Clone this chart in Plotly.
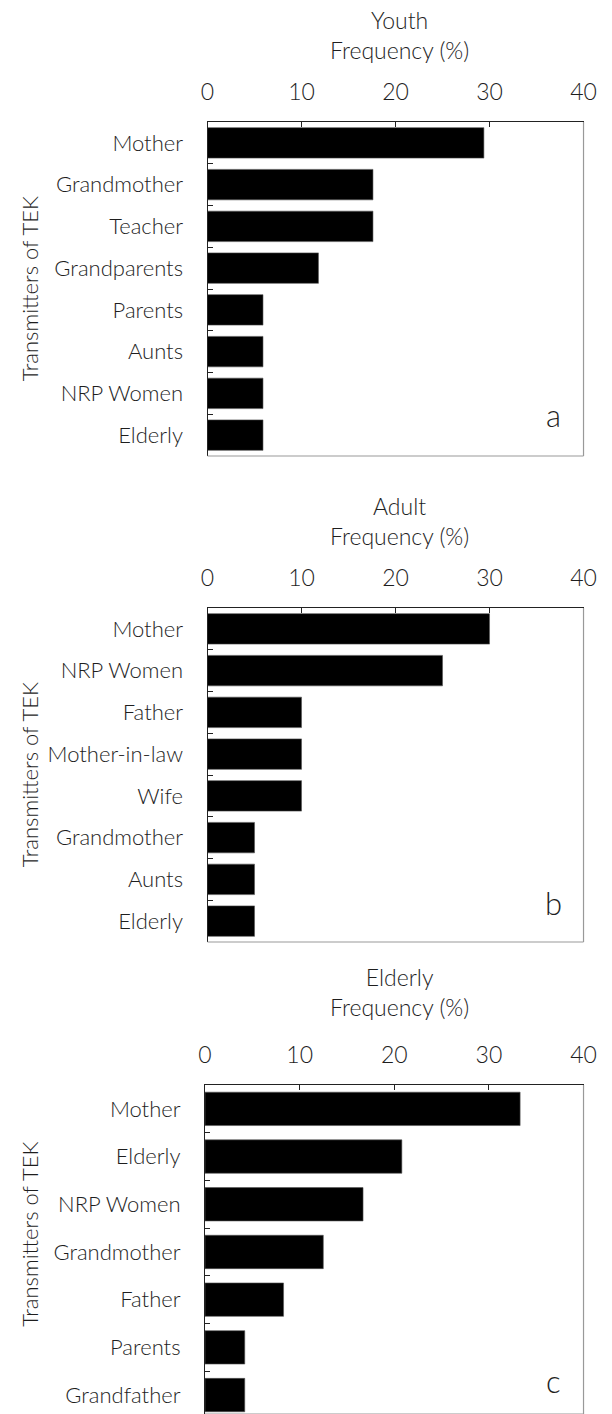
import plotly.graph_objects as go

# Transmitters of traditional ecological knowledge (TEK) by age group
youth_cats = ["Mother", "Grandmother", "Teacher", "Grandparents", "Parents", "Aunts", "NRP Women", "Elderly"]
youth_vals = [29.4, 17.6, 17.6, 11.8, 5.9, 5.9, 5.9, 5.9]

adult_cats = ["Mother", "NRP Women", "Father", "Mother-in-law", "Wife", "Grandmother", "Aunts", "Elderly"]
adult_vals = [30.0, 25.0, 10.0, 10.0, 10.0, 5.0, 5.0, 5.0]

elderly_cats = ["Mother", "Elderly", "NRP Women", "Grandmother", "Father", "Parents", "Grandfather"]
elderly_vals = [33.3, 20.8, 16.7, 12.5, 8.3, 4.2, 4.2]

x_ticks = [0, 10, 20, 30, 40]
group_titles = ["Youth", "Adult", "Elderly"]
panel_letters = ["a", "b", "c"]

W, H = 612, 1414
FONT = "Lato"
WT = 300
TXT = "#1e1e1e"

# pixel geometry of each panel: (left, right, top, bottom, y-range, bargap, title offset)
panels = [
    (207.3, 596.0, 122.0, 456.0, [7.5, -0.5], 0.27, 56),
    (207.3, 596.0, 608.0, 942.0, [7.5, -0.5], 0.27, 56),
    (204.7, 596.0, 1085.0, 1414.0, [6.397, -0.5], 0.30, 62),
]
datasets = [(youth_cats, youth_vals), (adult_cats, adult_vals), (elderly_cats, elderly_vals)]

fig = go.Figure()
layout = dict(
    width=W, height=H,
    margin=dict(l=0, r=0, t=0, b=0),
    paper_bgcolor="white", plot_bgcolor="white",
    showlegend=False,
    font=dict(family=FONT, color=TXT, size=22, weight=WT),
)
annotations = []
shapes = []

for i, ((cats, vals), (l, r, t, b, yr, gap, toff)) in enumerate(zip(datasets, panels)):
    n = "" if i == 0 else str(i + 1)
    xa, ya = "x" + n, "y" + n
    fig.add_trace(go.Bar(
        x=vals, y=cats, orientation="h",
        marker=dict(color="black", line=dict(color="#555", width=0.6)),
        width=1 - gap,
        xaxis=xa, yaxis=ya,
    ))
    layout["xaxis" + n] = dict(
        domain=[l / W, r / W], anchor=ya, side="top",
        range=[0, 40], tickvals=x_ticks, ticktext=[str(v) for v in x_ticks],
        ticks="inside", ticklen=5, tickcolor="#222", tickwidth=1,
        showline=True, linecolor="#222", linewidth=1.2,
        showgrid=False, zeroline=False,
        tickfont=dict(family=FONT, size=23, color=TXT, weight=WT),
        ticklabelstandoff=12,
        fixedrange=True,
    )
    layout["yaxis" + n] = dict(
        domain=[1 - b / H, 1 - t / H], anchor=xa,
        type="category", categoryorder="array", categoryarray=cats,
        range=yr,
        ticks="inside", tickson="boundaries", ticklen=5, tickcolor="#222", tickwidth=1,
        showline=True, linecolor="#222", linewidth=1.2,
        showgrid=False, zeroline=False,
        tickfont=dict(family=FONT, size=22, color=TXT, weight=WT),
        ticklabelstandoff=19,
        fixedrange=True,
    )
    # right and bottom frame edges
    shapes.append(dict(type="line", xref=xa + " domain", yref=ya + " domain",
                       x0=1, x1=1, y0=0, y1=1, line=dict(color="#999", width=1.2)))
    shapes.append(dict(type="line", xref=xa + " domain", yref=ya + " domain",
                       x0=0, x1=1, y0=0, y1=0, line=dict(color="#999", width=1.2)))

    # two-line axis title above the tick labels
    cx = 406.0 / W
    annotations.append(dict(
        text=group_titles[i] + "<br>Frequency (%)", xref="paper", yref="paper",
        x=cx, y=1 - (t - toff) / H, xanchor="center", yanchor="bottom",
        showarrow=False, align="center",
        font=dict(family=FONT, size=23, color=TXT, weight=WT),
    ))
    # rotated category-axis title
    ycen = (t + min(b, t + 334)) / 2 - (15 if i == 2 else 0)
    annotations.append(dict(
        text="Transmitters of TEK", xref="paper", yref="paper",
        x=23 / W, y=1 - ycen / H, xanchor="center", yanchor="middle",
        textangle=-90, showarrow=False,
        font=dict(family=FONT, size=22, color=TXT, weight=WT),
    ))
    # panel letter
    letter_y = [415, 903, 1381][i]
    annotations.append(dict(
        text=panel_letters[i], xref="paper", yref="paper",
        x=565 / W, y=1 - letter_y / H, xanchor="center", yanchor="middle",
        showarrow=False, font=dict(family=FONT, size=31, color=TXT, weight=WT),
    ))

layout["annotations"] = annotations
layout["shapes"] = shapes
fig.update_layout(**layout)
fig.write_html("out.html")
